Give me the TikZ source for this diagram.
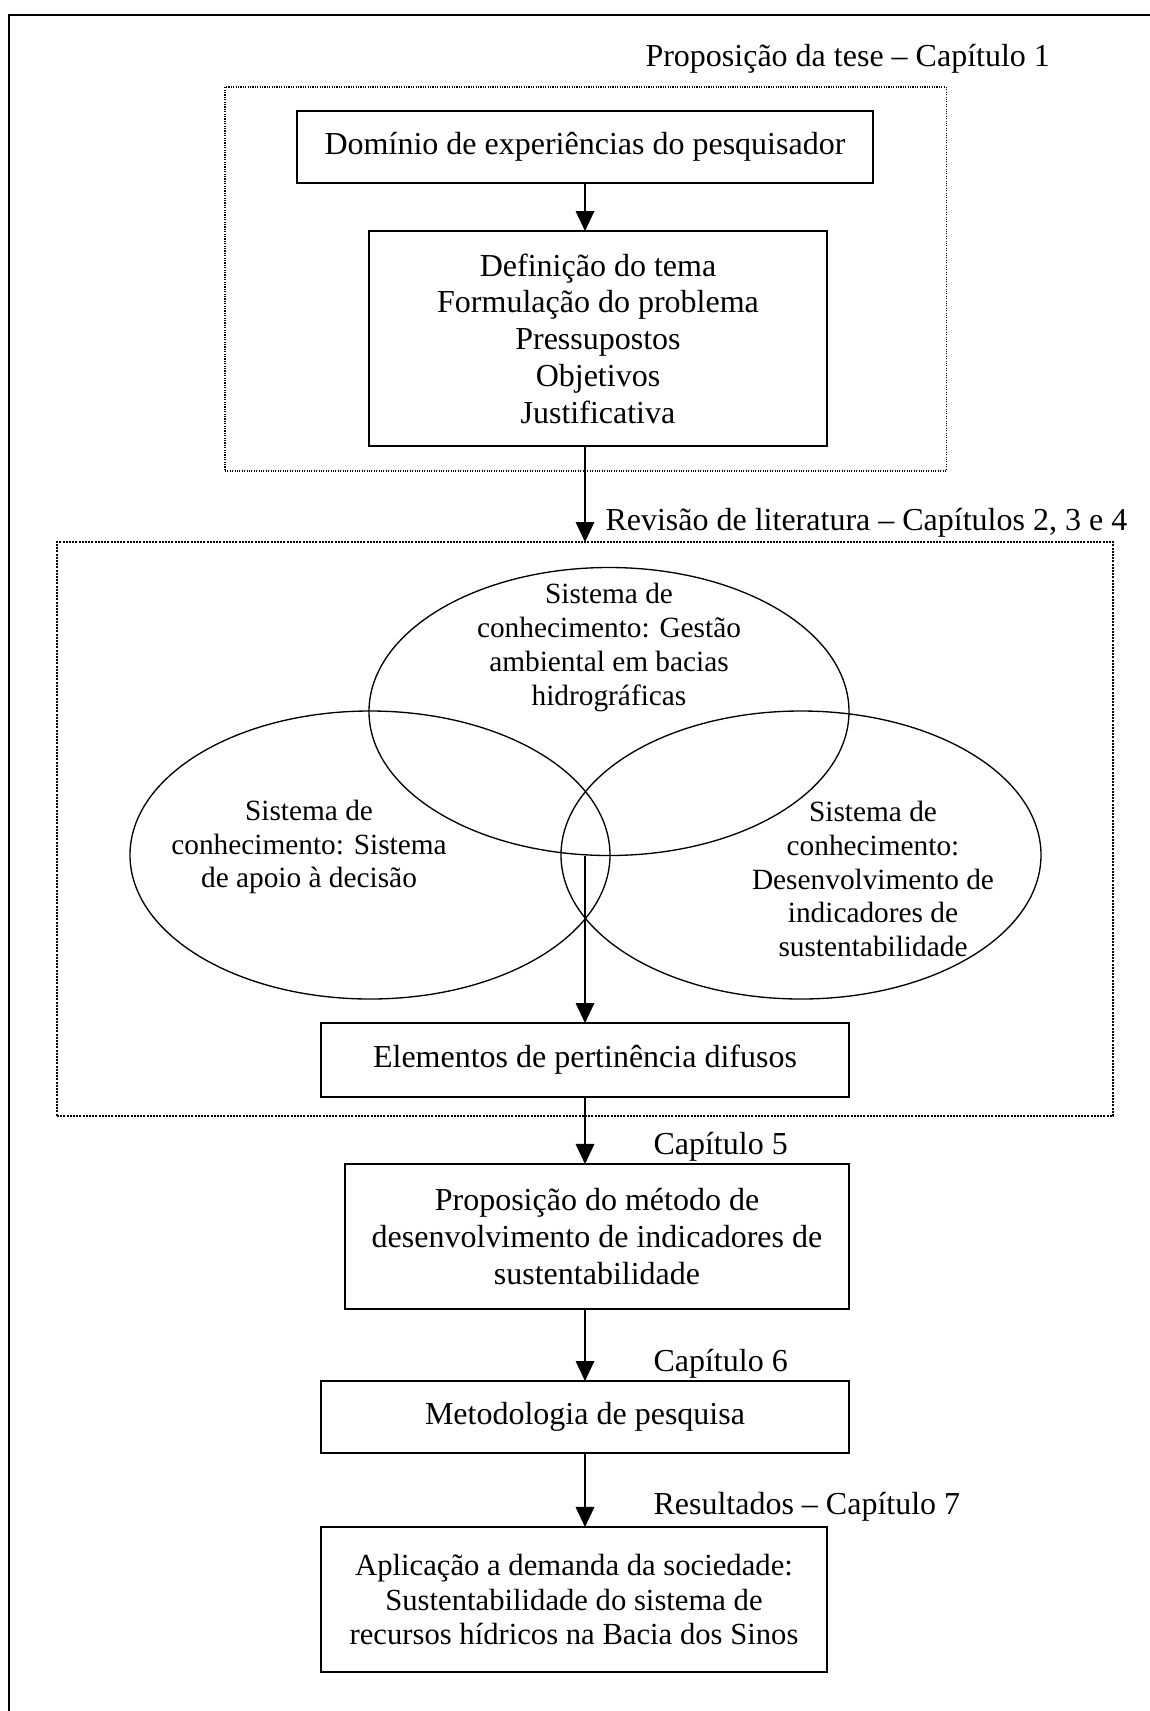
\documentclass[tikz,border=0pt]{standalone}
\usepackage{fontspec}
\setmainfont{Liberation Serif}
\usetikzlibrary{arrows.meta,shapes.geometric}

\begin{document}
\begin{tikzpicture}[x=0.375pt,y=-0.375pt,
	box/.style={draw,line width=0.7pt,inner sep=0,outer sep=0,align=center,font=\fontsize{12}{13.8}\selectfont},
	area/.style={draw,inner sep=0,outer sep=0},
	sys/.style={draw,ellipse,line width=0.5pt,inner sep=0,outer sep=0,minimum width=180pt,minimum height=108pt},
	systxt/.style={align=center,inner sep=0,font=\fontsize{11}{12.65}\selectfont},
	chap/.style={anchor=west,inner sep=0,font=\fontsize{12}{13.8}\selectfont},
	flow/.style={line width=0.4pt,-{Triangle[length=7.5pt,width=7pt]}}]
	\useasboundingbox (0,0) rectangle (1150,1711);
	% frame
	\draw[line width=0.75pt] (1150,15) -- (9,15) -- (9,1711);
	% dotted areas
	\node[area,line width=0.4pt,dash pattern=on 0.4pt off 0.5pt,minimum width=270.4pt,minimum height=144pt] (tese) at (585.5,279) {};
	\node[area,line width=0.75pt,dash pattern=on 0.75pt off 0.45pt,minimum width=396pt,minimum height=215.25pt] (lit) at (585,829) {};
	% boxes
	\node[box,minimum width=216pt,minimum height=27pt] (dominio) at (585,147) {Domínio de experiências do pesquisador};
	\node[box,minimum width=171.75pt,minimum height=80.6pt] (definicao) at (598,338.5) {Definição do tema\\Formulação do problema\\Pressupostos\\Objetivos\\Justificativa};
	\node[box,minimum width=198pt,minimum height=27.75pt] (elementos) at (585,1060) {Elementos de pertinência difusos};
	\node[box,minimum width=189pt,minimum height=54.4pt] (metodo) at (597,1236.5) {Proposição do método de\\desenvolvimento de indicadores de\\sustentabilidade};
	\node[box,minimum width=198pt,minimum height=27pt] (pesquisa) at (585,1417) {Metodologia de pesquisa};
	\node[box,minimum width=189.75pt,minimum height=54.4pt,font=\fontsize{11.5}{13}\selectfont] (aplicacao) at (574,1599.5) {Aplicação a demanda da sociedade:\\Sustentabilidade do sistema de\\recursos hídricos na Bacia dos Sinos};
	% knowledge systems
	\node[sys] (topsys) at (609,711.5) {};
	\node[sys] (leftsys) at (370,855) {};
	\node[sys] (rightsys) at (801,855) {};
	\node[systxt] (toptxt) at (609,647.5) {Sistema de\\conhecimento: Gestão\\ambiental em bacias\\hidrográficas};
	\node[systxt] (lefttxt) at (309,847) {Sistema de\\conhecimento: Sistema\\de apoio à decisão};
	\node[systxt] (righttxt) at (873,879) {Sistema de\\conhecimento:\\Desenvolvimento de\\indicadores de\\sustentabilidade};
	% chapter labels
	\node[chap] (tesetitle) at (645,59) {Proposição da tese – Capítulo 1};
	\node[chap] (revisao) at (605,523) {Revisão de literatura – Capítulos 2, 3 e 4};
	\node[chap] (cap5) at (653,1147) {Capítulo 5};
	\node[chap] (cap6) at (653,1364) {Capítulo 6};
	\node[chap] (cap7) at (653,1507) {Resultados – Capítulo 7};
	% flow
	\draw[flow] (dominio.south) -- (dominio.south |- definicao.north);
	\draw[flow] (dominio.south |- definicao.south) -- (lit.north);
	\draw[flow] (lit.north |- topsys.south) -- (elementos.north);
	\draw[flow] (elementos.south) -- (elementos.south |- metodo.north);
	\draw[flow] (elementos.south |- metodo.south) -- (pesquisa.north);
	\draw[flow] (pesquisa.south) -- (pesquisa.south |- aplicacao.north);
\end{tikzpicture}
\end{document}
